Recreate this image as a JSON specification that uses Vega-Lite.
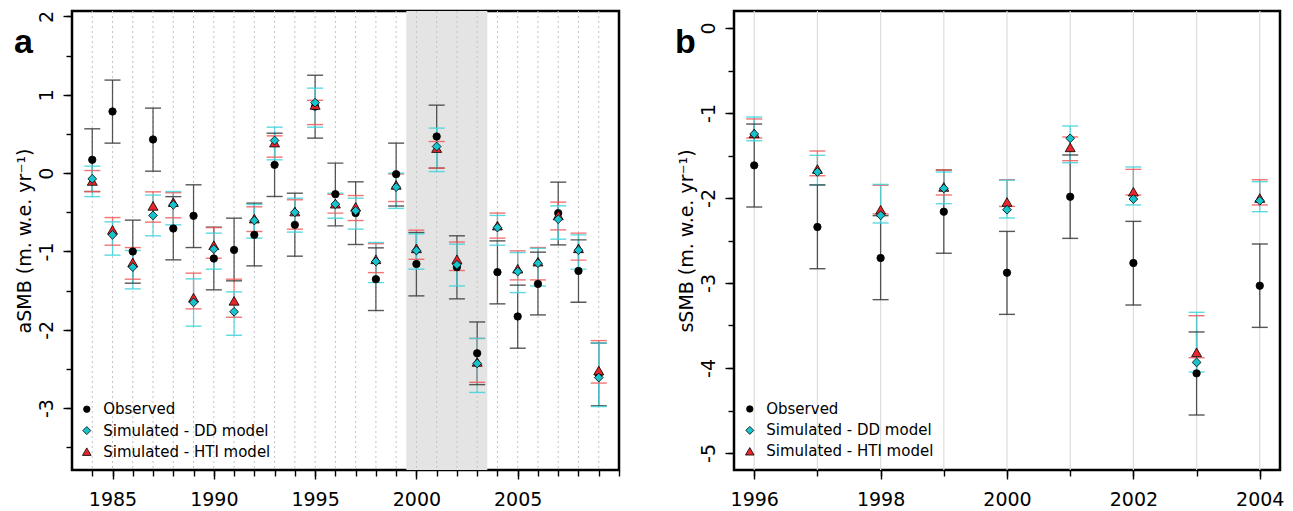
{
  "$schema": "https://vega.github.io/schema/vega-lite/v6.json",
  "autosize": "none",
  "padding": {"left": 72, "top": 11, "right": 1221, "bottom": 500},
  "config": {
    "view": {"stroke": "black", "strokeWidth": 2.5},
    "font": "DejaVu Sans",
    "axis": {"domain": false, "grid": false, "tickColor": "black", "tickWidth": 1.4, "labelColor": "black", "labelFont": "DejaVu Sans", "labelFontSize": 19, "titleFont": "DejaVu Sans", "titleFontSize": 19, "titleFontWeight": "normal", "titleColor": "black", "labelOverlap": false, "labelFlush": false}
  },
  "datasets": {
    "a": [
      {"year": 1984, "s": "Observed", "v": 0.17, "lo": -0.235, "hi": 0.566},
      {"year": 1985, "s": "Observed", "v": 0.787, "lo": 0.383, "hi": 1.188},
      {"year": 1986, "s": "Observed", "v": -1.0, "lo": -1.405, "hi": -0.6},
      {"year": 1987, "s": "Observed", "v": 0.43, "lo": 0.025, "hi": 0.83},
      {"year": 1988, "s": "Observed", "v": -0.707, "lo": -1.107, "hi": -0.3},
      {"year": 1989, "s": "Observed", "v": -0.545, "lo": -0.95, "hi": -0.149},
      {"year": 1990, "s": "Observed", "v": -1.09, "lo": -1.49, "hi": -0.69},
      {"year": 1991, "s": "Observed", "v": -0.98, "lo": -1.375, "hi": -0.575},
      {"year": 1992, "s": "Observed", "v": -0.788, "lo": -1.184, "hi": -0.383},
      {"year": 1993, "s": "Observed", "v": 0.106, "lo": -0.298, "hi": 0.51},
      {"year": 1994, "s": "Observed", "v": -0.66, "lo": -1.06, "hi": -0.256},
      {"year": 1995, "s": "Observed", "v": 0.85, "lo": 0.447, "hi": 1.25},
      {"year": 1996, "s": "Observed", "v": -0.268, "lo": -0.673, "hi": 0.128},
      {"year": 1997, "s": "Observed", "v": -0.51, "lo": -0.911, "hi": -0.111},
      {"year": 1998, "s": "Observed", "v": -1.354, "lo": -1.754, "hi": -0.954},
      {"year": 1999, "s": "Observed", "v": -0.013, "lo": -0.42, "hi": 0.383},
      {"year": 2000, "s": "Observed", "v": -1.16, "lo": -1.567, "hi": -0.758},
      {"year": 2001, "s": "Observed", "v": 0.468, "lo": 0.064, "hi": 0.868},
      {"year": 2002, "s": "Observed", "v": -1.2, "lo": -1.605, "hi": -0.8},
      {"year": 2003, "s": "Observed", "v": -2.3, "lo": -2.7, "hi": -1.9},
      {"year": 2004, "s": "Observed", "v": -1.264, "lo": -1.669, "hi": -0.865},
      {"year": 2005, "s": "Observed", "v": -1.83, "lo": -2.235, "hi": -1.43},
      {"year": 2006, "s": "Observed", "v": -1.414, "lo": -1.81, "hi": -1.009},
      {"year": 2007, "s": "Observed", "v": -0.51, "lo": -0.916, "hi": -0.115},
      {"year": 2008, "s": "Observed", "v": -1.248, "lo": -1.648, "hi": -0.852},
      {"year": 2009, "s": "Observed", "v": -2.57, "lo": -2.97, "hi": -2.17},
      {"year": 1984, "s": "Simulated - HTI model", "v": -0.1, "lo": -0.235, "hi": 0.033},
      {"year": 1985, "s": "Simulated - HTI model", "v": -0.724, "lo": -0.92, "hi": -0.567},
      {"year": 1986, "s": "Simulated - HTI model", "v": -1.14, "lo": -1.354, "hi": -0.95},
      {"year": 1987, "s": "Simulated - HTI model", "v": -0.418, "lo": -0.626, "hi": -0.239},
      {"year": 1988, "s": "Simulated - HTI model", "v": -0.37, "lo": -0.57, "hi": -0.25},
      {"year": 1989, "s": "Simulated - HTI model", "v": -1.59, "lo": -1.733, "hi": -1.277},
      {"year": 1990, "s": "Simulated - HTI model", "v": -0.92, "lo": -1.086, "hi": -0.695},
      {"year": 1991, "s": "Simulated - HTI model", "v": -1.63, "lo": -1.84, "hi": -1.354},
      {"year": 1992, "s": "Simulated - HTI model", "v": -0.58, "lo": -0.745, "hi": -0.43},
      {"year": 1993, "s": "Simulated - HTI model", "v": 0.39, "lo": 0.204, "hi": 0.476},
      {"year": 1994, "s": "Simulated - HTI model", "v": -0.49, "lo": -0.715, "hi": -0.34},
      {"year": 1995, "s": "Simulated - HTI model", "v": 0.87, "lo": 0.62, "hi": 0.93},
      {"year": 1996, "s": "Simulated - HTI model", "v": -0.39, "lo": -0.51, "hi": -0.27},
      {"year": 1997, "s": "Simulated - HTI model", "v": -0.43, "lo": -0.605, "hi": -0.286},
      {"year": 1998, "s": "Simulated - HTI model", "v": -1.1, "lo": -1.27, "hi": -0.9},
      {"year": 1999, "s": "Simulated - HTI model", "v": -0.15, "lo": -0.362, "hi": -0.01},
      {"year": 2000, "s": "Simulated - HTI model", "v": -0.96, "lo": -1.1, "hi": -0.728},
      {"year": 2001, "s": "Simulated - HTI model", "v": 0.32, "lo": 0.064, "hi": 0.404},
      {"year": 2002, "s": "Simulated - HTI model", "v": -1.1, "lo": -1.243, "hi": -0.88},
      {"year": 2003, "s": "Simulated - HTI model", "v": -2.41, "lo": -2.67, "hi": -2.11},
      {"year": 2004, "s": "Simulated - HTI model", "v": -0.67, "lo": -0.83, "hi": -0.51},
      {"year": 2005, "s": "Simulated - HTI model", "v": -1.22, "lo": -1.363, "hi": -0.992},
      {"year": 2006, "s": "Simulated - HTI model", "v": -1.13, "lo": -1.363, "hi": -0.95},
      {"year": 2007, "s": "Simulated - HTI model", "v": -0.54, "lo": -0.724, "hi": -0.37},
      {"year": 2008, "s": "Simulated - HTI model", "v": -0.96, "lo": -1.111, "hi": -0.766},
      {"year": 2009, "s": "Simulated - HTI model", "v": -2.52, "lo": -2.68, "hi": -2.138},
      {"year": 1984, "s": "Simulated - DD model", "v": -0.073, "lo": -0.3, "hi": 0.089},
      {"year": 1985, "s": "Simulated - DD model", "v": -0.788, "lo": -1.047, "hi": -0.622},
      {"year": 1986, "s": "Simulated - DD model", "v": -1.2, "lo": -1.478, "hi": -0.988},
      {"year": 1987, "s": "Simulated - DD model", "v": -0.54, "lo": -0.8, "hi": -0.28},
      {"year": 1988, "s": "Simulated - DD model", "v": -0.405, "lo": -0.66, "hi": -0.235},
      {"year": 1989, "s": "Simulated - DD model", "v": -1.65, "lo": -1.954, "hi": -1.35},
      {"year": 1990, "s": "Simulated - DD model", "v": -0.97, "lo": -1.226, "hi": -0.766},
      {"year": 1991, "s": "Simulated - DD model", "v": -1.77, "lo": -2.07, "hi": -1.516},
      {"year": 1992, "s": "Simulated - DD model", "v": -0.605, "lo": -0.83, "hi": -0.4},
      {"year": 1993, "s": "Simulated - DD model", "v": 0.417, "lo": 0.17, "hi": 0.587},
      {"year": 1994, "s": "Simulated - DD model", "v": -0.5, "lo": -0.753, "hi": -0.32},
      {"year": 1995, "s": "Simulated - DD model", "v": 0.9, "lo": 0.587, "hi": 1.085},
      {"year": 1996, "s": "Simulated - DD model", "v": -0.396, "lo": -0.575, "hi": -0.255},
      {"year": 1997, "s": "Simulated - DD model", "v": -0.48, "lo": -0.715, "hi": -0.32},
      {"year": 1998, "s": "Simulated - DD model", "v": -1.128, "lo": -1.397, "hi": -0.886},
      {"year": 1999, "s": "Simulated - DD model", "v": -0.179, "lo": -0.45, "hi": 0.0},
      {"year": 2000, "s": "Simulated - DD model", "v": -0.988, "lo": -1.226, "hi": -0.775},
      {"year": 2001, "s": "Simulated - DD model", "v": 0.34, "lo": 0.02, "hi": 0.575},
      {"year": 2002, "s": "Simulated - DD model", "v": -1.17, "lo": -1.44, "hi": -0.907},
      {"year": 2003, "s": "Simulated - DD model", "v": -2.43, "lo": -2.8, "hi": -2.11},
      {"year": 2004, "s": "Simulated - DD model", "v": -0.695, "lo": -0.92, "hi": -0.54},
      {"year": 2005, "s": "Simulated - DD model", "v": -1.256, "lo": -1.525, "hi": -1.014},
      {"year": 2006, "s": "Simulated - DD model", "v": -1.15, "lo": -1.44, "hi": -0.96},
      {"year": 2007, "s": "Simulated - DD model", "v": -0.588, "lo": -0.843, "hi": -0.418},
      {"year": 2008, "s": "Simulated - DD model", "v": -0.984, "lo": -1.226, "hi": -0.788},
      {"year": 2009, "s": "Simulated - DD model", "v": -2.61, "lo": -2.98, "hi": -2.17}
    ],
    "b": [
      {"year": 1996, "s": "Observed", "v": -1.616, "lo": -2.106, "hi": -1.13},
      {"year": 1997, "s": "Observed", "v": -2.341, "lo": -2.832, "hi": -1.847},
      {"year": 1998, "s": "Observed", "v": -2.706, "lo": -3.196, "hi": -2.208},
      {"year": 1999, "s": "Observed", "v": -2.161, "lo": -2.65, "hi": -1.67},
      {"year": 2000, "s": "Observed", "v": -2.879, "lo": -3.369, "hi": -2.393},
      {"year": 2001, "s": "Observed", "v": -1.985, "lo": -2.475, "hi": -1.494},
      {"year": 2002, "s": "Observed", "v": -2.765, "lo": -3.259, "hi": -2.275},
      {"year": 2003, "s": "Observed", "v": -4.063, "lo": -4.553, "hi": -3.576},
      {"year": 2004, "s": "Observed", "v": -3.032, "lo": -3.522, "hi": -2.541},
      {"year": 1996, "s": "Simulated - HTI model", "v": -1.24, "lo": -1.294, "hi": -1.07},
      {"year": 1997, "s": "Simulated - HTI model", "v": -1.659, "lo": -1.738, "hi": -1.447},
      {"year": 1998, "s": "Simulated - HTI model", "v": -2.138, "lo": -2.188, "hi": -1.85},
      {"year": 1999, "s": "Simulated - HTI model", "v": -1.87, "lo": -1.965, "hi": -1.671},
      {"year": 2000, "s": "Simulated - HTI model", "v": -2.047, "lo": -2.099, "hi": -1.785},
      {"year": 2001, "s": "Simulated - HTI model", "v": -1.404, "lo": -1.561, "hi": -1.282},
      {"year": 2002, "s": "Simulated - HTI model", "v": -1.926, "lo": -1.965, "hi": -1.663},
      {"year": 2003, "s": "Simulated - HTI model", "v": -3.816, "lo": -3.879, "hi": -3.385},
      {"year": 2004, "s": "Simulated - HTI model", "v": -2.0, "lo": -2.082, "hi": -1.785},
      {"year": 1996, "s": "Simulated - DD model", "v": -1.247, "lo": -1.326, "hi": -1.047},
      {"year": 1997, "s": "Simulated - DD model", "v": -1.694, "lo": -1.844, "hi": -1.498},
      {"year": 1998, "s": "Simulated - DD model", "v": -2.204, "lo": -2.294, "hi": -1.84},
      {"year": 1999, "s": "Simulated - DD model", "v": -1.887, "lo": -2.067, "hi": -1.694},
      {"year": 2000, "s": "Simulated - DD model", "v": -2.138, "lo": -2.235, "hi": -1.79},
      {"year": 2001, "s": "Simulated - DD model", "v": -1.298, "lo": -1.585, "hi": -1.153},
      {"year": 2002, "s": "Simulated - DD model", "v": -2.012, "lo": -2.082, "hi": -1.635},
      {"year": 2003, "s": "Simulated - DD model", "v": -3.934, "lo": -4.047, "hi": -3.345},
      {"year": 2004, "s": "Simulated - DD model", "v": -2.032, "lo": -2.161, "hi": -1.808}
    ]
  },
  "spacing": 115,
  "bounds": "flush",
  "resolve": {
    "scale": {"fill": "independent", "shape": "independent", "size": "independent", "color": "independent"}
  },
  "hconcat": [
    {
      "width": 547,
      "height": 459,
      "title": {"text": "a", "anchor": "start", "frame": "group", "orient": "top", "offset": -77, "dx": -58, "baseline": "alphabetic", "align": "left", "fontSize": 34, "fontWeight": "bold", "font": "Liberation Sans", "color": "black"},
      "resolve": {"axis": {"x": "independent", "y": "independent"}},
      "layer": [
        {
          "data": {"values": [{"x0": 1999.5, "x1": 2003.5}]},
          "mark": {"type": "rect", "color": "#e4e4e4"},
          "encoding": {
            "x": {"field": "x0", "type": "quantitative", "scale": {"domain": [1983, 2010], "nice": false, "zero": false}, "axis": null},
            "x2": {"field": "x1"}
          }
        },
        {
          "data": {"name": "a"},
          "transform": [{"filter": "datum.s == 'Observed'"}],
          "mark": {"type": "rule", "color": "#c4c4c4", "strokeDash": [2, 3], "strokeWidth": 1},
          "encoding": {
            "x": {"field": "year", "type": "quantitative", "axis": {"orient": "bottom", "values": [1984,1985,1986,1987,1988,1989,1990,1991,1992,1993,1994,1995,1996,1997,1998,1999,2000,2001,2002,2003,2004,2005,2006,2007,2008,2009,2010], "tickSize": 6, "labels": false, "title": null}}
          }
        },
        {
          "data": {"name": "a"},
          "mark": {"type": "rule", "strokeWidth": 1.3, "opacity": 0.85},
          "encoding": {
            "x": {"field": "year", "type": "quantitative", "axis": null},
            "y": {"field": "lo", "type": "quantitative", "scale": {"domain": [-3.79, 2.07], "nice": false, "zero": false}, "axis": {"orient": "left", "values": [-3.5,-3,-2.5,-2,-1.5,-1,-0.5,0,0.5,1,1.5,2], "tickSize": 6, "labels": false, "title": null}},
            "y2": {"field": "hi"},
            "color": {"field": "s", "type": "nominal", "scale": {"domain": ["Observed", "Simulated - DD model", "Simulated - HTI model"], "range": ["#3a3a3a", "#3fd3dc", "#f05a5a"]}, "legend": null}
          }
        },
        {
          "data": {"name": "a"},
          "mark": {"type": "tick", "orient": "horizontal", "size": 16, "thickness": 1.4, "opacity": 0.85},
          "encoding": {
            "x": {"field": "year", "type": "quantitative", "axis": null},
            "y": {"field": "lo", "type": "quantitative", "axis": null},
            "color": {"field": "s", "type": "nominal", "legend": null}
          }
        },
        {
          "data": {"name": "a"},
          "mark": {"type": "tick", "orient": "horizontal", "size": 16, "thickness": 1.4, "opacity": 0.85},
          "encoding": {
            "x": {"field": "year", "type": "quantitative", "axis": null},
            "y": {"field": "hi", "type": "quantitative", "axis": null},
            "color": {"field": "s", "type": "nominal", "legend": null}
          }
        },
        {
          "data": {"name": "a"},
          "mark": {"type": "point", "filled": true, "stroke": "black", "strokeWidth": 0.8, "opacity": 1},
          "encoding": {
            "x": {"field": "year", "type": "quantitative", "axis": {"orient": "bottom", "values": [1985, 1990, 1995, 2000, 2005], "tickSize": 9, "labelPadding": 11, "labelExpr": "'' + datum.value", "title": null}},
            "y": {"field": "v", "type": "quantitative", "axis": {"orient": "left", "values": [-3, -2, -1, 0, 1, 2], "tickSize": 9, "labelAngle": -90, "labelAlign": "center", "labelBaseline": "alphabetic", "labelPadding": 11, "labelExpr": "datum.value < 0 ? '-' + abs(datum.value) : '' + datum.value", "title": "aSMB (m. w.e. yr⁻¹)", "titlePadding": 3}},
            "fill": {"field": "s", "type": "nominal", "scale": {"domain": ["Observed", "Simulated - DD model", "Simulated - HTI model"], "range": ["black", "#17c3cc", "#e8262b"]}, "legend": null},
            "shape": {"field": "s", "type": "nominal", "scale": {"domain": ["Observed", "Simulated - DD model", "Simulated - HTI model"], "range": ["circle", "diamond", "triangle-up"]}, "legend": null},
            "size": {"field": "s", "type": "nominal", "scale": {"domain": ["Observed", "Simulated - DD model", "Simulated - HTI model"], "range": [55, 100, 100]}, "legend": null}
          }
        },
        {
          "data": {"values": [{"s": "Observed"}]},
          "layer": [
            {"mark": {"type": "point", "filled": true, "stroke": "black", "strokeWidth": 0.8, "size": 42, "opacity": 1}, "encoding": {"x": {"datum": 1983.73, "type": "quantitative", "axis": null}, "y": {"datum": -3.014, "type": "quantitative", "axis": null}, "fill": {"field": "s", "type": "nominal", "legend": null}, "shape": {"field": "s", "type": "nominal", "legend": null}}},
            {"mark": {"type": "text", "align": "left", "baseline": "middle", "fontSize": 15, "font": "DejaVu Sans", "color": "black"}, "encoding": {"x": {"datum": 1984.54, "type": "quantitative", "axis": null}, "y": {"datum": -3.014, "type": "quantitative", "axis": null}, "text": {"field": "s"}}}
          ]
        },
        {
          "data": {"values": [{"s": "Simulated - DD model"}]},
          "layer": [
            {"mark": {"type": "point", "filled": true, "stroke": "black", "strokeWidth": 0.8, "size": 64, "opacity": 1}, "encoding": {"x": {"datum": 1983.73, "type": "quantitative", "axis": null}, "y": {"datum": -3.287, "type": "quantitative", "axis": null}, "fill": {"field": "s", "type": "nominal", "legend": null}, "shape": {"field": "s", "type": "nominal", "legend": null}}},
            {"mark": {"type": "text", "align": "left", "baseline": "middle", "fontSize": 15, "font": "DejaVu Sans", "color": "black"}, "encoding": {"x": {"datum": 1984.54, "type": "quantitative", "axis": null}, "y": {"datum": -3.287, "type": "quantitative", "axis": null}, "text": {"field": "s"}}}
          ]
        },
        {
          "data": {"values": [{"s": "Simulated - HTI model"}]},
          "layer": [
            {"mark": {"type": "point", "filled": true, "stroke": "black", "strokeWidth": 0.8, "size": 75, "opacity": 1}, "encoding": {"x": {"datum": 1983.73, "type": "quantitative", "axis": null}, "y": {"datum": -3.556, "type": "quantitative", "axis": null}, "fill": {"field": "s", "type": "nominal", "legend": null}, "shape": {"field": "s", "type": "nominal", "legend": null}}},
            {"mark": {"type": "text", "align": "left", "baseline": "middle", "fontSize": 15, "font": "DejaVu Sans", "color": "black"}, "encoding": {"x": {"datum": 1984.54, "type": "quantitative", "axis": null}, "y": {"datum": -3.556, "type": "quantitative", "axis": null}, "text": {"field": "s"}}}
          ]
        }
      ]
    },
    {
      "width": 546,
      "height": 459,
      "title": {"text": "b", "anchor": "start", "frame": "group", "orient": "top", "offset": -77, "dx": -59, "baseline": "alphabetic", "align": "left", "fontSize": 34, "fontWeight": "bold", "font": "Liberation Sans", "color": "black"},
      "resolve": {"axis": {"x": "independent", "y": "independent"}},
      "layer": [
        {
          "data": {"name": "b"},
          "transform": [{"filter": "datum.s == 'Observed'"}],
          "mark": {"type": "rule", "color": "#dcdcdc", "strokeWidth": 1.2},
          "encoding": {
            "x": {"field": "year", "type": "quantitative", "scale": {"domain": [1995.68, 2004.32], "nice": false, "zero": false}, "axis": {"orient": "bottom", "values": [1996,1997,1998,1999,2000,2001,2002,2003,2004], "tickSize": 6, "labels": false, "title": null}}
          }
        },
        {
          "data": {"name": "b"},
          "mark": {"type": "rule", "strokeWidth": 1.3, "opacity": 0.85},
          "encoding": {
            "x": {"field": "year", "type": "quantitative", "axis": null},
            "y": {"field": "lo", "type": "quantitative", "scale": {"domain": [-5.2, 0.2], "nice": false, "zero": false}, "axis": {"orient": "left", "values": [-5,-4.5,-4,-3.5,-3,-2.5,-2,-1.5,-1,-0.5,0], "tickSize": 6, "labels": false, "title": null}},
            "y2": {"field": "hi"},
            "color": {"field": "s", "type": "nominal", "scale": {"domain": ["Observed", "Simulated - DD model", "Simulated - HTI model"], "range": ["#3a3a3a", "#3fd3dc", "#f05a5a"]}, "legend": null}
          }
        },
        {
          "data": {"name": "b"},
          "mark": {"type": "tick", "orient": "horizontal", "size": 16, "thickness": 1.4, "opacity": 0.85},
          "encoding": {
            "x": {"field": "year", "type": "quantitative", "axis": null},
            "y": {"field": "lo", "type": "quantitative", "axis": null},
            "color": {"field": "s", "type": "nominal", "legend": null}
          }
        },
        {
          "data": {"name": "b"},
          "mark": {"type": "tick", "orient": "horizontal", "size": 16, "thickness": 1.4, "opacity": 0.85},
          "encoding": {
            "x": {"field": "year", "type": "quantitative", "axis": null},
            "y": {"field": "hi", "type": "quantitative", "axis": null},
            "color": {"field": "s", "type": "nominal", "legend": null}
          }
        },
        {
          "data": {"name": "b"},
          "mark": {"type": "point", "filled": true, "stroke": "black", "strokeWidth": 0.8, "opacity": 1},
          "encoding": {
            "x": {"field": "year", "type": "quantitative", "axis": {"orient": "bottom", "values": [1996, 1998, 2000, 2002, 2004], "tickSize": 9, "labelPadding": 11, "labelExpr": "'' + datum.value", "title": null}},
            "y": {"field": "v", "type": "quantitative", "axis": {"orient": "left", "values": [-5, -4, -3, -2, -1, 0], "tickSize": 9, "labelAngle": -90, "labelAlign": "center", "labelBaseline": "alphabetic", "labelPadding": 11, "labelExpr": "datum.value < 0 ? '-' + abs(datum.value) : '' + datum.value", "title": "sSMB (m. w.e. yr⁻¹)", "titlePadding": 3}},
            "fill": {"field": "s", "type": "nominal", "scale": {"domain": ["Observed", "Simulated - DD model", "Simulated - HTI model"], "range": ["black", "#17c3cc", "#e8262b"]}, "legend": null},
            "shape": {"field": "s", "type": "nominal", "scale": {"domain": ["Observed", "Simulated - DD model", "Simulated - HTI model"], "range": ["circle", "diamond", "triangle-up"]}, "legend": null},
            "size": {"field": "s", "type": "nominal", "scale": {"domain": ["Observed", "Simulated - DD model", "Simulated - HTI model"], "range": [55, 100, 100]}, "legend": null}
          }
        },
        {
          "data": {"values": [{"s": "Observed"}]},
          "layer": [
            {"mark": {"type": "point", "filled": true, "stroke": "black", "strokeWidth": 0.8, "size": 42, "opacity": 1}, "encoding": {"x": {"datum": 1995.93, "type": "quantitative", "axis": null}, "y": {"datum": -4.482, "type": "quantitative", "axis": null}, "fill": {"field": "s", "type": "nominal", "legend": null}, "shape": {"field": "s", "type": "nominal", "legend": null}}},
            {"mark": {"type": "text", "align": "left", "baseline": "middle", "fontSize": 15, "font": "DejaVu Sans", "color": "black"}, "encoding": {"x": {"datum": 1996.19, "type": "quantitative", "axis": null}, "y": {"datum": -4.482, "type": "quantitative", "axis": null}, "text": {"field": "s"}}}
          ]
        },
        {
          "data": {"values": [{"s": "Simulated - DD model"}]},
          "layer": [
            {"mark": {"type": "point", "filled": true, "stroke": "black", "strokeWidth": 0.8, "size": 64, "opacity": 1}, "encoding": {"x": {"datum": 1995.93, "type": "quantitative", "axis": null}, "y": {"datum": -4.734, "type": "quantitative", "axis": null}, "fill": {"field": "s", "type": "nominal", "legend": null}, "shape": {"field": "s", "type": "nominal", "legend": null}}},
            {"mark": {"type": "text", "align": "left", "baseline": "middle", "fontSize": 15, "font": "DejaVu Sans", "color": "black"}, "encoding": {"x": {"datum": 1996.19, "type": "quantitative", "axis": null}, "y": {"datum": -4.734, "type": "quantitative", "axis": null}, "text": {"field": "s"}}}
          ]
        },
        {
          "data": {"values": [{"s": "Simulated - HTI model"}]},
          "layer": [
            {"mark": {"type": "point", "filled": true, "stroke": "black", "strokeWidth": 0.8, "size": 75, "opacity": 1}, "encoding": {"x": {"datum": 1995.93, "type": "quantitative", "axis": null}, "y": {"datum": -4.98, "type": "quantitative", "axis": null}, "fill": {"field": "s", "type": "nominal", "legend": null}, "shape": {"field": "s", "type": "nominal", "legend": null}}},
            {"mark": {"type": "text", "align": "left", "baseline": "middle", "fontSize": 15, "font": "DejaVu Sans", "color": "black"}, "encoding": {"x": {"datum": 1996.19, "type": "quantitative", "axis": null}, "y": {"datum": -4.98, "type": "quantitative", "axis": null}, "text": {"field": "s"}}}
          ]
        }
      ]
    }
  ]
}
